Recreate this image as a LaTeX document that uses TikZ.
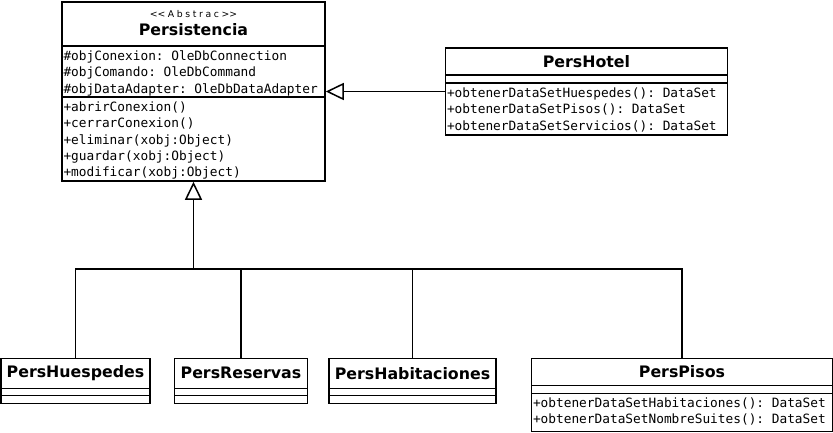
\documentclass[tikz,border=0pt]{standalone}
\usepackage{fontspec}
\setmainfont{DejaVu Sans}
\setmonofont{DejaVu Sans Mono}
\newfontfamily\stereofam{DejaVu Sans}[LetterSpace=28]
\usepackage{tikz}
\usetikzlibrary{shapes,arrows,arrows.meta,positioning,calc}
\newcommand{\namefont}{\bfseries\fontsize{15.8}{18}\selectfont}
\newcommand{\stereofont}{\stereofam\fontsize{9.3}{10}\selectfont}
\newcommand{\membfont}{\ttfamily\fontsize{12.8}{16.4}\selectfont}
% one part of a class box: height, width, text
% (each part grows by the line width, so heights are given 1.5pt short)
\newcommand{\uname}[3]{\parbox[c][#1][c]{#2}{\centering\namefont #3}}
\newcommand{\ulist}[3]{\parbox[c][#1][t]{#2}{\raggedright\leftskip=1.5pt\membfont\rule{0pt}{13.5pt}#3}}
\newcommand{\uempty}[2]{\parbox[c][#1][c]{#2}{}}
\tikzset{umlclass/.style={
    draw,
    rectangle split,
    rectangle split parts=3,
    line width=1.5pt,
    inner sep=0pt,
    fill=white,
  },
  inherit/.style={line width=1.5pt,-{Triangle[open,length=18pt,width=17pt]}},
  link/.style={line width=1.5pt}
}

\begin{document}
\begin{tikzpicture}[x=1pt, y=-1pt]
        \useasboundingbox (0,0) rectangle (833,432);

        \node (pers) [umlclass] at (193.5,91.5) {
          \nodepart{text}  {\parbox[c][42.5pt][t]{263pt}{\centering\lineskiplimit=-20pt\rule{0pt}{15pt}{\stereofont <\kern0pt<Abstrac>\kern0pt>}\par\namefont\baselineskip=18pt Persistencia}}
          \nodepart{two}   {\ulist{49.5pt}{263pt}{\#objConexion: OleDbConnection\\\#objComando: OleDbCommand\\\#objDataAdapter: OleDbDataAdapter}}
          \nodepart{three} {\ulist{82.5pt}{263pt}{+abrirConexion()\\+cerrarConexion()\\+eliminar(xobj:Object)\\+guardar(xobj:Object)\\+modificar(xobj:Object)}}
        };

        \node (hotel) [umlclass, right=119pt of pers] {
          \nodepart{text}  {\uname{25.5pt}{282pt}{PersHotel}}
          \nodepart{two}   {\uempty{6.5pt}{282pt}}
          \nodepart{three} {\ulist{50.5pt}{282pt}{+obtenerDataSetHuespedes(): DataSet\\+obtenerDataSetPisos(): DataSet\\+obtenerDataSetServicios(): DataSet}}
        };

        \node (huesp) [umlclass, anchor=north] at (75.5,357.5) {
          \nodepart{text}  {\uname{28.5pt}{149pt}{PersHuespedes}}
          \nodepart{two}   {\uempty{5.5pt}{149pt}}
          \nodepart{three} {\uempty{6.5pt}{149pt}}
        };
        \node (reserv) [umlclass, right=23pt of huesp] {
          \nodepart{text}  {\uname{28.5pt}{133pt}{PersReservas}}
          \nodepart{two}   {\uempty{5.5pt}{133pt}}
          \nodepart{three} {\uempty{6.5pt}{133pt}}
        };
        \node (habit) [umlclass, right=20pt of reserv] {
          \nodepart{text}  {\uname{28.5pt}{167pt}{PersHabitaciones}}
          \nodepart{two}   {\uempty{5.5pt}{167pt}}
          \nodepart{three} {\uempty{6.5pt}{167pt}}
        };
        \node (pisos) [umlclass, right=34pt of habit.north east, anchor=north west] {
          \nodepart{text}  {\uname{25.5pt}{301pt}{PersPisos}}
          \nodepart{two}   {\uempty{6.5pt}{301pt}}
          \nodepart{three} {\ulist{36.5pt}{301pt}{+obtenerDataSetHabitaciones(): DataSet\\+obtenerDataSetNombreSuites(): DataSet}}
        };

        \coordinate (bus) at ($(pers.south)+(0,87)$);

        \draw [inherit] (hotel.west) -- (pers.east |- hotel.west);
        \draw [inherit] (bus) -- (pers.south);
        \draw [link] (huesp.north) |- (bus);
        \draw [link] (reserv.north) |- (bus);
        \draw [link] (habit.north) |- (bus);
        \draw [link] (pisos.north) |- (bus);

      \end{tikzpicture}
\end{document}
